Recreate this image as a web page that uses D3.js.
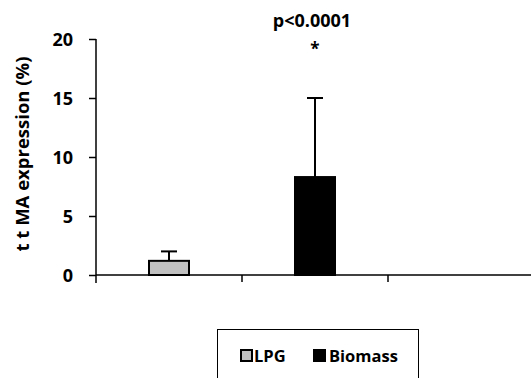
<!DOCTYPE html>
<html>
<head>
<meta charset="utf-8">
<script src="https://cdn.jsdelivr.net/npm/d3@7"></script>
<style>
  body { margin: 0; background: #fff; }
  text { font-family: "Open Sans", sans-serif; font-weight: bold; fill: #000; }
</style>
</head>
<body>
<div id="chart"></div>
<script>

var categories = ["LPG", "Biomass", ""]
var means = [1.2, 8.3, null]
var errs = [0.8, 6.7, null]   // upper error (SD)
var fills = ["#c0c0c0", "#000000"]
var yTicks = [0, 5, 10, 15, 20]
var pLabel = "p<0.0001"

var width = 531
var height = 378

var x = d3.scaleBand().domain(categories).range([96, 534])
var y = d3.scaleLinear().domain([0, 20]).range([275, 39])
var barWidth = 40
var capWidth = 16

var svg = d3.select("#chart").append("svg")
  .attr("width", width)
  .attr("height", height)

// y axis
var yAxis = svg.append("g")
  .attr("transform", "translate(96,0)")
  .call(d3.axisLeft(y).tickValues(yTicks).tickSize(7).tickPadding(16))
yAxis.select(".domain").attr("d", "M0," + y(20) + "V283").attr("stroke", "#000").attr("stroke-width", 1.5)
yAxis.selectAll(".tick line").attr("stroke", "#000").attr("stroke-width", 1.5)
yAxis.selectAll(".tick text")
  .style("font-size", "18px")
  .style("font-family", "'Open Sans', sans-serif")
  .style("font-weight", "bold")
  .attr("dy", "0.36em")

// x axis
var xAxis = svg.append("g")
  .attr("transform", "translate(0," + y(0) + ")")
xAxis.append("line")
  .attr("x1", 96).attr("x2", width)
  .attr("stroke", "#000").attr("stroke-width", 1.5)
xAxis.selectAll(".xtick")
  .data(categories.slice(1))
  .enter().append("line")
  .attr("x1", d => x(d)).attr("x2", d => x(d))
  .attr("y1", 0).attr("y2", 7)
  .attr("stroke", "#000").attr("stroke-width", 1.5)

// y label
svg.append("text")
  .attr("transform", "translate(29,154) rotate(-90)")
  .attr("text-anchor", "middle")
  .style("font-size", "18.5px")
  .text("t t MA expression (%)")

var data = categories.map((c, i) => ({ cat: c, mean: means[i], err: errs[i], fill: fills[i] }))
  .filter(d => d.mean != null)

// error bars (upper only)
var eb = svg.append("g").selectAll("g")
  .data(data).enter().append("g")
eb.append("line")
  .attr("x1", d => x(d.cat) + x.bandwidth() / 2)
  .attr("x2", d => x(d.cat) + x.bandwidth() / 2)
  .attr("y1", d => y(d.mean))
  .attr("y2", d => y(d.mean + d.err))
  .attr("stroke", "#000").attr("stroke-width", 2)
eb.append("line")
  .attr("x1", d => x(d.cat) + x.bandwidth() / 2 - capWidth / 2)
  .attr("x2", d => x(d.cat) + x.bandwidth() / 2 + capWidth / 2)
  .attr("y1", d => y(d.mean + d.err))
  .attr("y2", d => y(d.mean + d.err))
  .attr("stroke", "#000").attr("stroke-width", 2)

// bars
svg.append("g").selectAll("rect")
  .data(data).enter().append("rect")
  .attr("x", d => x(d.cat) + x.bandwidth() / 2 - barWidth / 2)
  .attr("y", d => y(d.mean))
  .attr("width", barWidth)
  .attr("height", d => y(0) - y(d.mean))
  .attr("fill", d => d.fill)
  .attr("stroke", "#000")
  .attr("stroke-width", 2)

// significance
var bx = x("Biomass") + x.bandwidth() / 2
svg.append("text")
  .attr("x", bx - 3).attr("y", 27)
  .attr("text-anchor", "middle")
  .style("font-size", "18px")
  .text(pLabel)
svg.append("text")
  .attr("x", bx).attr("y", 55)
  .attr("text-anchor", "middle")
  .style("font-size", "17px")
  .text("*")

// legend
var legend = svg.append("g")
legend.append("rect")
  .attr("x", 217.5).attr("y", 329.5)
  .attr("width", 201).attr("height", 60)
  .attr("fill", "none").attr("stroke", "#000").attr("stroke-width", 1)
var legX = [241, 314]
var legTx = [254, 329]
legend.selectAll(".lsq")
  .data(data).enter().append("rect")
  .attr("x", (d, i) => legX[i]).attr("y", 350)
  .attr("width", 11).attr("height", 11)
  .attr("fill", d => d.fill)
  .attr("stroke", "#000").attr("stroke-width", 2)
legend.selectAll(".ltx")
  .data(data).enter().append("text")
  .attr("x", (d, i) => legTx[i]).attr("y", 362)
  .style("font-size", "16.5px")
  .text(d => d.cat)

</script>
</body>
</html>
